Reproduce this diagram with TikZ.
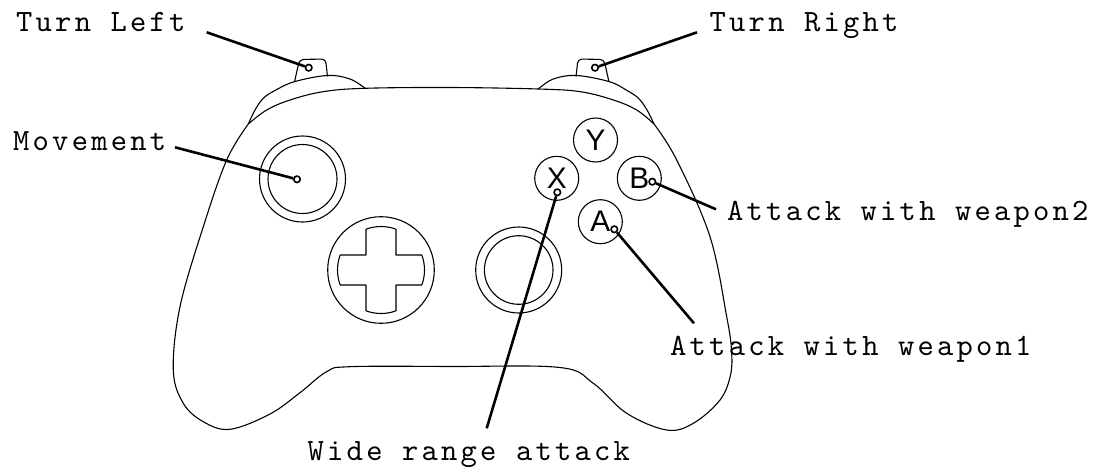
\documentclass[tikz,border=0pt]{standalone}
\usepackage{fontspec}
\newfontfamily\labelfont[LetterSpace=10.5]{lmmono10-regular.otf}
\newfontfamily\btnfont{Liberation Sans}
\begin{document}
\begin{tikzpicture}[x=1pt,y=-1pt,
  body/.style={line width=1.1pt, line join=round},
  leader/.style={line width=2.6pt},
  dot/.style={circle, draw, line width=1.6pt, fill=white, minimum size=6.5pt, inner sep=0pt},
  lbl/.style={font=\labelfont\fontsize{31}{31}\selectfont, anchor=base west, inner sep=0pt},
  btn/.style={circle, draw, line width=1.1pt, minimum size=44pt, inner sep=0pt, font=\btnfont\fontsize{29.8}{29.8}\selectfont}]
\useasboundingbox (0,0) rectangle (1100,469);
% body top line
\draw[body] plot[smooth, tension=0.6] coordinates {(248.3,124) (266.7,110) (290,100) (323,91.7) (365,88.3) (451,87.5) (538.3,89) (580.4,91.7) (613.4,100) (636.7,110) (654,124)};
% body outline
\draw[body] plot[smooth, tension=0.6] coordinates {(248.3,124) (226.7,160) (203.3,226.7) (180,306.7) (173.3,370) (183.3,403.3) (203.3,421.7) (230,429.3) (270,414) (300,392.7) (326.7,371.7) (350,366.7) (451,366.5) (560,367.5) (593.3,383.3) (626.7,413.3) (666.7,430) (693.3,423.3) (720,400) (730.5,375) (731.5,350) (726.7,316.7) (710,236.7) (676.7,160) (654,124)};
% bumpers
\draw[body] plot[smooth, tension=0.6] coordinates {(248.3,124) (255,110) (263.3,98.3) (275,90.5) (294.3,81.7) (327.3,75.5) (350,79) (365,88.3)};
\draw[body] plot[smooth, tension=0.6] coordinates {(654,124) (647,110) (638.5,98.3) (627,90.5) (609.5,81.7) (576.5,75.5) (553.3,79) (538.3,89)};
% triggers
\draw[body, rounded corners=4pt] (294.5,82) -- (299.5,59.5) -- (325.5,59) -- (327.5,76.5);
\draw[body, rounded corners=4pt] (609,82) -- (604,59.5) -- (578,59) -- (576,76.5);
% sticks
\draw[body] (302.5,179) circle[radius=43] (302.5,179) circle[radius=34.5];
\draw[body] (518.7,270) circle[radius=43] (518.7,270) circle[radius=34.3];
% d-pad
\draw[body] (381,270) circle[radius=53.3];
\draw[body] (421.83,255) arc[start angle=-20.17, end angle=20.17, radius=43.5]
  -- (396,285) -- (396,310.83)
  arc[start angle=69.83, end angle=110.17, radius=43.5]
  -- (366,285) -- (340.17,285)
  arc[start angle=159.83, end angle=200.17, radius=43.5]
  -- (366,255) -- (366,229.17)
  arc[start angle=249.83, end angle=290.17, radius=43.5]
  -- (396,255) -- cycle;
% face buttons
\node[btn] (Y) at (595.5,140) {Y};
\node[btn] (X) at (556.7,178.3) {X};
\node[btn] (B) at (639.3,178.3) {B};
\node[btn] (A) at (600.3,221.7) {A};
% labels
\node[lbl] (tl) at (16,31) {Turn Left};
\node[lbl] (tr) at (709.5,31) {Turn Right};
\node[lbl] (mv) at (13,150) {Movement};
\node[lbl] (w2) at (727,220) {Attack with weapon2};
\node[lbl] (w1) at (670,355.5) {Attack with weapon1};
\node[lbl] (wr) at (307.5,460) {Wide range attack};
% leader ends
\coordinate (tlEnd) at (206.7,32.3);
\coordinate (trEnd) at (697,32.3);
\coordinate (mvEnd) at (175,147.3);
\coordinate (w2End) at (716,209.3);
\coordinate (w1End) at (694,323.3);
\coordinate (wrEnd) at (486.7,428.3);
% dots
\node[dot] (ltDot) at (308.7,67.7) {};
\node[dot] (rtDot) at (595,67.7) {};
\node[dot] (mvDot) at (297,179.3) {};
\node[dot] (bDot) at (652.3,181.7) {};
\node[dot] (aDot) at (614.3,229.3) {};
\node[dot] (xDot) at (557.3,192.3) {};
% leaders
\draw[leader] (tlEnd) -- (ltDot);
\draw[leader] (trEnd) -- (rtDot);
\draw[leader] (mvEnd) -- (mvDot);
\draw[leader] (w2End) -- (bDot);
\draw[leader] (w1End) -- (aDot);
\draw[leader] (wrEnd) -- (xDot);
\end{tikzpicture}
\end{document}
